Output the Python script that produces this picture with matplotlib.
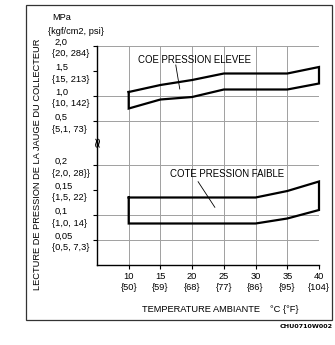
import numpy as np
import matplotlib
matplotlib.use("Agg")
import matplotlib.pyplot as plt
from matplotlib.patches import Rectangle

plt.rcParams['font.family'] = ['Liberation Sans', 'DejaVu Sans']

# ---- data ----
temps_c = [10, 15, 20, 25, 30, 35, 40]
temps_f = [50, 59, 68, 77, 86, 95, 104]

high_x = [10, 15, 20, 25, 35, 40]
high_upper = [1.08, 1.22, 1.32, 1.45, 1.45, 1.58]
high_lower = [0.75, 0.93, 0.98, 1.13, 1.13, 1.25]

low_x = [10, 30, 35, 40]
low_upper = [0.135, 0.135, 0.148, 0.167]
low_lower = [0.083, 0.083, 0.093, 0.11]

ytick_vals = [2.0, 1.5, 1.0, 0.5, 0.2, 0.15, 0.1, 0.05]
mpa_labels = ["2,0", "1,5", "1,0", "0,5", "0,2", "0,15", "0,1", "0,05"]
alt_labels = ["{20, 284}", "{15, 213}", "{10, 142}", "{5,1, 73}",
              "{2,0, 28}}", "{1,5, 22}", "{1,0, 14}", "{0,5, 7,3}"]
grid_y = [2.0, 1.0, 0.5, 0.2, 0.1, 0.05]

# broken y scale (piecewise linear)
brk_v = [0.0, 0.2, 0.5, 2.0]
brk_u = [0.0, 100.0, 144.0, 219.0]

def fwd(v):
    return np.interp(v, brk_v, brk_u)

def inv(u):
    return np.interp(u, brk_u, brk_v)

W, H = 335, 345
fig = plt.figure(figsize=(W / 100, H / 100), dpi=100)

# outer frame
fig.add_artist(Rectangle((26 / W, 1 - 320 / H), (331.5 - 26) / W, (320 - 5) / H,
                         transform=fig.transFigure, fill=False, lw=0.9,
                         ec='#333333'))

ax = fig.add_axes([97 / W, 1 - 265 / H, (319 - 97) / W, 219 / H])
ax.set_yscale('function', functions=(fwd, inv))
ax.set_xlim(5, 40)
ax.set_ylim(0, 2.0)

for s in ['top', 'right']:
    ax.spines[s].set_visible(False)
for s in ['left', 'bottom']:
    ax.spines[s].set_linewidth(1.0)
    ax.spines[s].set_color('black')

# grid
for gx in temps_c:
    ax.axvline(gx, color='#a0a0a0', lw=0.7, zorder=1)
for gy in grid_y:
    ax.axhline(gy, color='#a0a0a0', lw=0.7, zorder=1)

# ticks
ax.set_yticks(ytick_vals)
ax.set_yticklabels([])
ax.yaxis.set_minor_locator(matplotlib.ticker.NullLocator())
ax.tick_params(axis='y', direction='out', length=3, width=0.8)
ax.set_xticks(temps_c)
ax.set_xticklabels([f"{c}\n{{{f}}}" for c, f in zip(temps_c, temps_f)],
                   fontsize=6.7, linespacing=1.3)
ax.tick_params(axis='x', direction='out', length=3, width=0.8, pad=2)

# y labels (two lines each)
ytr = ax.get_yaxis_transform()
for v, m, a in zip(ytick_vals, mpa_labels, alt_labels):
    ax.annotate(m, xy=(0, v), xycoords=ytr, xytext=(-42 * 0.72, 3.5 * 0.72),
                textcoords='offset points', ha='left', va='center', fontsize=6.7)
    ax.annotate(a, xy=(0, v), xycoords=ytr, xytext=(-45 * 0.72, -8 * 0.72),
                textcoords='offset points', ha='left', va='center', fontsize=6.7)

fig.text(52 / W, 1 - 18 / H, "MPa", ha='left', va='center', fontsize=6.7)
fig.text(48 / W, 1 - 31 / H, "{kgf/cm2, psi}", ha='left', va='center', fontsize=6.7)

# axis break symbol
ax.text(0, 0.364, "≈", transform=ytr, rotation=90, ha='center', va='center',
        fontsize=10, family='DejaVu Sans', zorder=5)

# boxes
hx = high_x + high_x[::-1] + [high_x[0]]
hy = high_upper + high_lower[::-1] + [high_upper[0]]
ax.plot(hx, hy, color='black', lw=1.6, solid_joinstyle='miter', zorder=3,
        clip_on=False)
lx = low_x + low_x[::-1] + [low_x[0]]
ly = low_upper + low_lower[::-1] + [low_upper[0]]
ax.plot(lx, ly, color='black', lw=1.6, solid_joinstyle='miter', zorder=3,
        clip_on=False)

# annotations
ax.text(20.4, 1.72, "COE PRESSION ELEVEE", ha='center', va='center',
        fontsize=6.9, zorder=4)
ax.plot([17.42, 18.05], [1.62, 1.14], color='black', lw=0.6, zorder=4)
ax.text(25.5, 0.182, "COTE PRESSION FAIBLE", ha='center', va='center',
        fontsize=6.9, zorder=4)
ax.plot([20.94, 23.58], [0.1666, 0.1154], color='black', lw=0.6, zorder=4)

# axis titles
fig.text(38 / W, 1 - 164 / H, "LECTURE DE PRESSION DE LA JAUGE DU COLLECTEUR",
         rotation=90, ha='center', va='center', fontsize=6.7)
fig.text(141.7 / W, 1 - 310 / H, "TEMPERATURE AMBIANTE", ha='left', va='center',
         fontsize=6.7)
fig.text(270 / W, 1 - 310 / H, "°C {°F}", ha='left', va='center', fontsize=6.7)

fig.text(333 / W, 1 - 327 / H, "CHU0710W002", ha='right', va='center',
         fontsize=4.6, fontweight='bold', family='Liberation Sans Narrow')

fig.savefig("out.png", dpi=100)
